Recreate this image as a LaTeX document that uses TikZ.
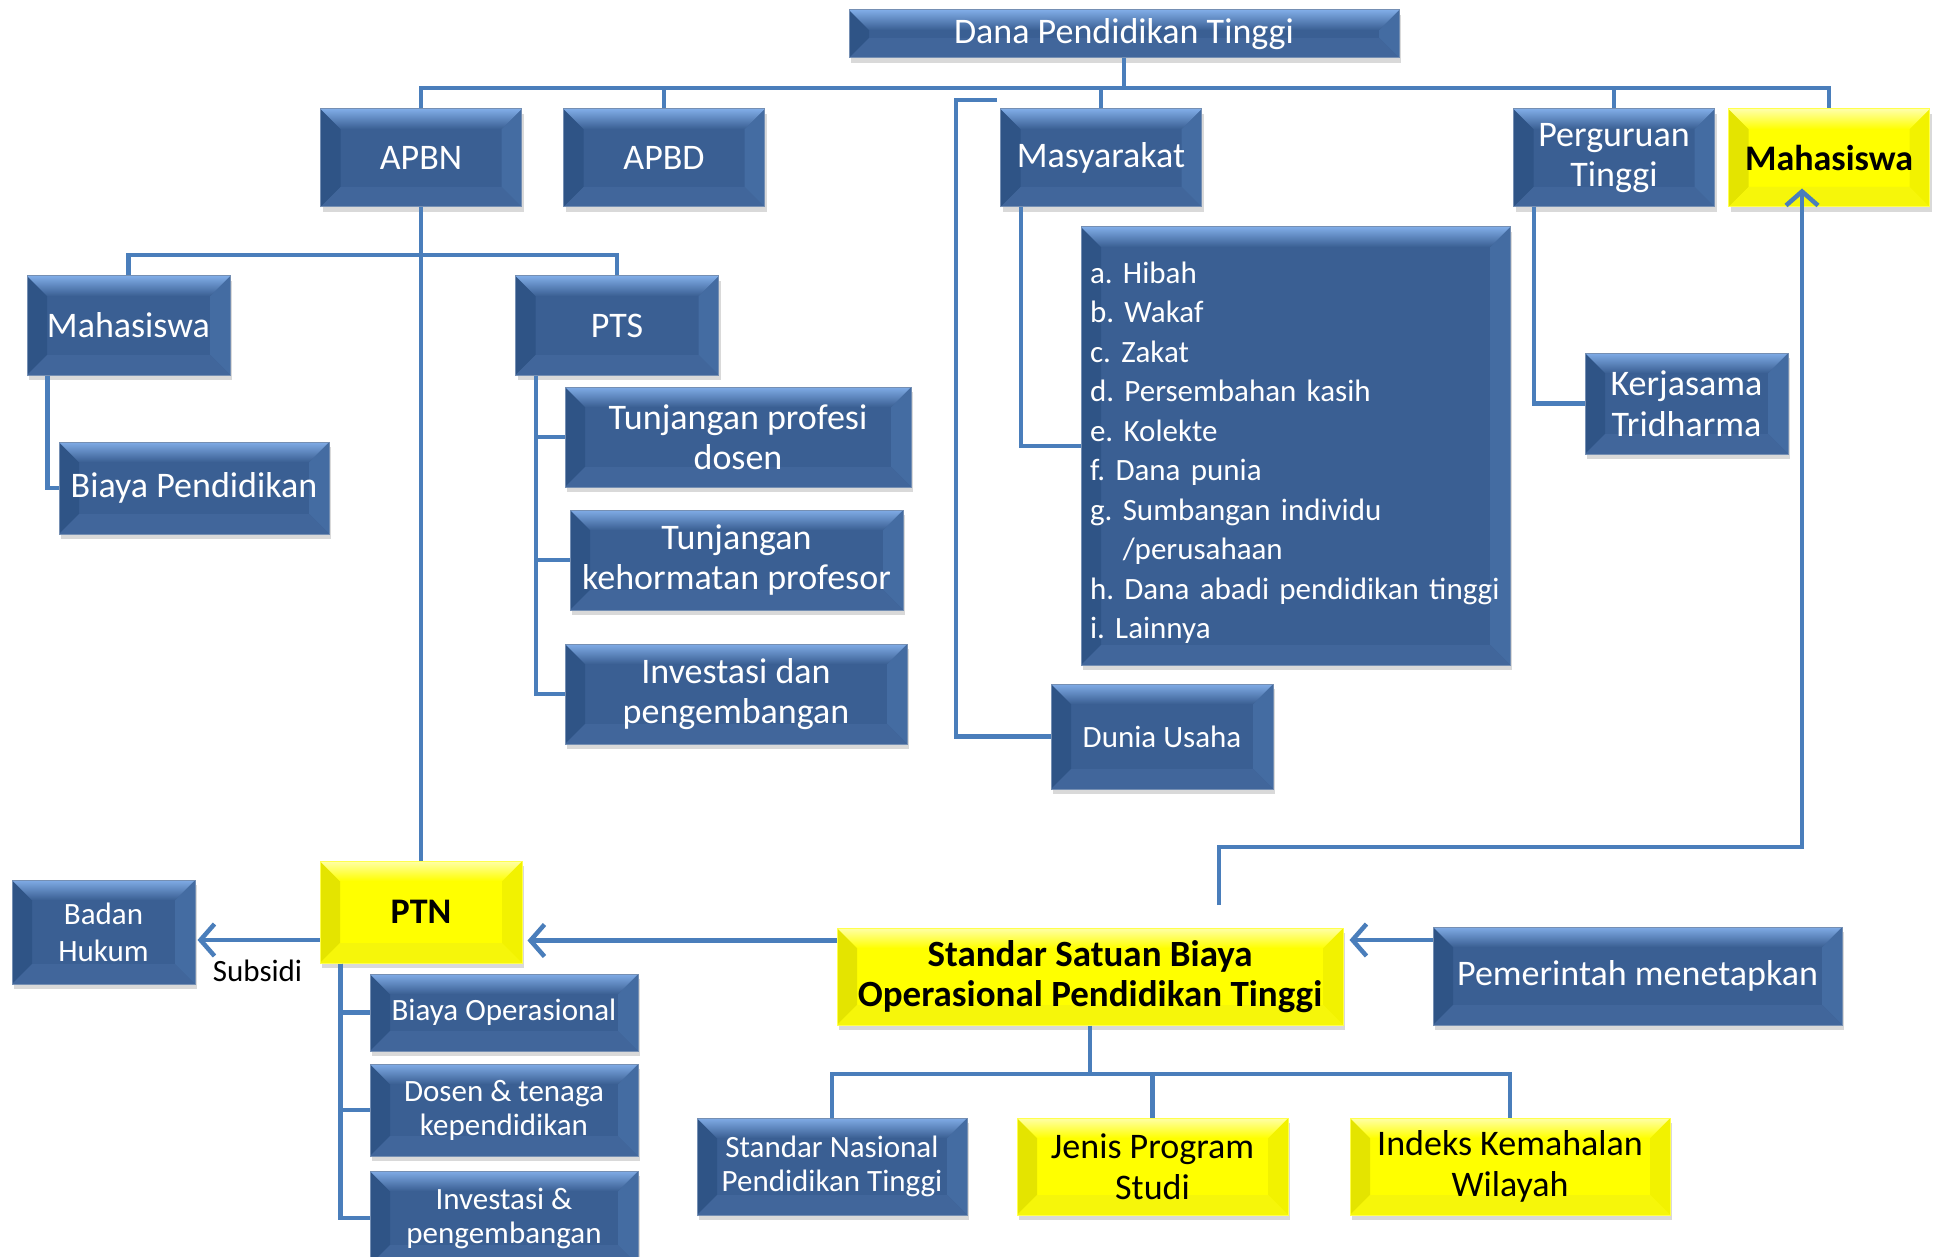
\documentclass[tikz,border=0pt]{standalone}
\usepackage{fontspec}
\setmainfont{Carlito}
\frenchspacing
\usetikzlibrary{arrows.meta,shadows}

\definecolor{linkblue}{HTML}{4A7EBB}
\definecolor{boxblue}{HTML}{3A5F93}
\definecolor{boxleft}{HTML}{2F5486}
\definecolor{boxright}{HTML}{446CA2}
\definecolor{boxbot}{HTML}{41669B}
\definecolor{boxtop}{HTML}{80ACE6}
\definecolor{ylbase}{HTML}{FFFF00}
\definecolor{ylleft}{HTML}{E4E400}
\definecolor{ylright}{HTML}{F2F200}
\definecolor{ylbot}{HTML}{F6F60A}
\definecolor{yltop}{HTML}{FFFFA8}
\newcommand\bevw{20pt}

\begin{document}
\begin{tikzpicture}[x=1pt,y=-1pt,
  link/.style={draw=linkblue, line width=4.5pt},
  arr/.style={link, -{Straight Barb[length=14pt, width=32pt, line width=4.5pt]}},
  bevel/.style n args={5}{rectangle, fill=#1, draw=#1!70!white, line width=1pt,
    align=center, inner sep=2pt,
    drop shadow={opacity=0.3, shadow xshift=2pt, shadow yshift=-5pt},
    path picture={
      \coordinate (q1) at (path picture bounding box.north west);
      \coordinate (q2) at (path picture bounding box.north east);
      \coordinate (q3) at (path picture bounding box.south east);
      \coordinate (q4) at (path picture bounding box.south west);
      \fill[#2] (q1) -- ([xshift=\bevw,yshift=-\bevw]q1) -- ([xshift=\bevw,yshift=\bevw]q4) -- (q4) -- cycle;
      \fill[#3] (q2) -- ([xshift=-\bevw,yshift=-\bevw]q2) -- ([xshift=-\bevw,yshift=\bevw]q3) -- (q3) -- cycle;
      \fill[#4] (q4) -- ([xshift=\bevw,yshift=\bevw]q4) -- ([xshift=-\bevw,yshift=\bevw]q3) -- (q3) -- cycle;
      \shade[top color=#5, bottom color=#1] (q1) -- (q2) -- ([xshift=-\bevw,yshift=-\bevw]q2) -- ([xshift=\bevw,yshift=-\bevw]q1) -- cycle;
    }},
  bluebox/.style={bevel={boxblue}{boxleft}{boxright}{boxbot}{boxtop}, text=white, bigfont},
  yellowbox/.style={bevel={ylbase}{ylleft}{ylright}{ylbot}{yltop}, text=black, bigfont},
  bigfont/.style={font=\fontsize{36}{40.5}\selectfont},
  midfont/.style={font=\fontsize{31}{34}\selectfont},
  boldfont/.style={font=\fontsize{36}{40.5}\selectfont\bfseries},
  listfont/.style={font=\fontsize{31}{39.5}\selectfont},
  headsize/.style={minimum width=201pt, minimum height=98pt}]

\useasboundingbox (0,0) rectangle (1935,1257);

\node[bluebox, minimum width=550pt, minimum height=48pt] (dana) at (1124,34) {Dana Pendidikan Tinggi};
\node[bluebox, headsize] (apbn) at (421,158) {APBN};
\node[bluebox, headsize] (apbd) at (664,158) {APBD};
\node[bluebox, headsize] (masy) at (1101,158) {Masyarakat};
\node[bluebox, headsize] (pt) at (1614,158) {Perguruan\\Tinggi};
\node[yellowbox, headsize, boldfont] (mhs) at (1829,158) {Mahasiswa};

\node[bluebox, minimum width=203pt, minimum height=99pt] (mhsb) at (128.5,325.5) {Mahasiswa};
\node[bluebox, minimum width=203pt, minimum height=99pt] (pts) at (617,325.5) {PTS};
\node[bluebox, minimum width=270pt, minimum height=92pt] (biaya) at (194,488) {Biaya Pendidikan};
\node[bluebox, minimum width=346pt, minimum height=100pt] (tpd) at (738,437) {Tunjangan profesi\\dosen};
\node[bluebox, minimum width=333pt, minimum height=100pt] (tkp) at (736.5,560) {Tunjangan\\kehormatan profesor};
\node[bluebox, minimum width=342pt, minimum height=100pt] (ivp) at (736,694) {Investasi dan\\pengembangan};

\node[bluebox, listfont, minimum width=429pt, minimum height=438pt, text width=411pt, align=left] (list) at (1295.5,446) {\rule{0pt}{35pt}a. Hibah\\
b. Wakaf\\
c. Zakat\\
d. Persembahan kasih\\
e. Kolekte\\
f. Dana punia\\
g. Sumbangan individu\\
\phantom{g.\ }/perusahaan\\
h. Dana abadi pendidikan tinggi\\
i. Lainnya};
\node[bluebox, minimum width=203pt, minimum height=101pt] (kt) at (1686.5,403.5) {Kerjasama\\Tridharma};
\node[bluebox, midfont, minimum width=222pt, minimum height=105pt] (dunia) at (1162,736.5) {Dunia Usaha};

\node[bluebox, font=\fontsize{31}{37}\selectfont, minimum width=183pt, minimum height=104pt] (bh) at (103.5,932) {Badan\\Hukum};
\node[yellowbox, boldfont, minimum width=202pt, minimum height=102pt] (ptn) at (421,912) {PTN};
\node[bluebox, midfont, minimum width=268pt, minimum height=77pt] (bo) at (504,1012.5) {Biaya Operasional};
\node[bluebox, midfont, minimum width=268pt, minimum height=92pt] (dtk) at (504,1110) {Dosen \& tenaga\\kependidikan};
\node[bluebox, midfont, minimum width=268pt, minimum height=94pt] (ip) at (504,1218) {Investasi \&\\pengembangan};

\node[yellowbox, font=\fontsize{37}{40.5}\selectfont\bfseries, minimum width=506pt, minimum height=97pt] (ssb) at (1090,976.5) {Standar Satuan Biaya\\Operasional Pendidikan Tinggi};
\node[bluebox, minimum width=409pt, minimum height=98pt] (pem) at (1637.5,976) {Pemerintah menetapkan};
\node[bluebox, midfont, minimum width=270pt, minimum height=97pt] (snp) at (832,1166.5) {Standar Nasional\\Pendidikan Tinggi};
\node[yellowbox, minimum width=271pt, minimum height=97pt] (jps) at (1152.5,1166.5) {Jenis Program\\Studi};
\node[yellowbox, minimum width=320pt, minimum height=97pt] (ikw) at (1510,1166.5) {Indeks Kemahalan\\Wilayah};

\coordinate (bus) at (0,88);
\coordinate (bus2) at (0,255);
\coordinate (bus3) at (0,1074);
\coordinate (du) at (997,100);
\coordinate (sm) at (1219,905);

\draw[link] (dana.south) -- (dana.south |- bus);
\draw[link] (apbn.north) -- (apbn.north |- bus) -- (mhs.north |- bus) -- (mhs.north);
\foreach \n in {apbd,masy,pt}
  \draw[link] (\n.north) -- (\n.north |- bus);
\draw[link] (du) -- ++(-41,0) |- (dunia.west);

\draw[link] (apbn.south) -- (ptn.north);
\draw[link] (mhsb.north) -- (mhsb.north |- bus2) -- (pts.north |- bus2) -- (pts.north);
\draw[link] ([xshift=21pt]mhsb.south west) |- (biaya.west);
\foreach \n in {tpd,tkp,ivp}
  \draw[link] ([xshift=21pt]pts.south west) |- (\n.west);
\draw[link] ([xshift=21pt]masy.south west) |- (list.west);
\draw[link] ([xshift=21pt]pt.south west) |- (kt.west);

\draw[arr] (sm) -- ++(0,-58) -| ([xshift=-27pt,yshift=19pt]mhs.south);
\draw[arr, shorten >=5pt] ([yshift=36pt]ssb.west) -- ([yshift=36pt]ssb.west -| ptn.east);
\draw[arr, shorten >=6pt] ([yshift=36pt]pem.west) -- ([yshift=36pt]pem.west -| ssb.east);
\draw[arr, shorten >=2pt] ([yshift=-28pt]ptn.west) -- ([yshift=-28pt]ptn.west -| bh.east)
  node[midway, below=14pt, midfont, text=black] (sub) {Subsidi};
\foreach \n in {bo,dtk,ip}
  \draw[link] ([xshift=21pt]ptn.south west) |- (\n.west);

\draw[link] (ssb.south) -- (ssb.south |- bus3);
\draw[link] (snp.north) -- (snp.north |- bus3) -- (ikw.north |- bus3) -- (ikw.north);
\draw[link] (jps.north) -- (jps.north |- bus3);
\end{tikzpicture}
\end{document}
